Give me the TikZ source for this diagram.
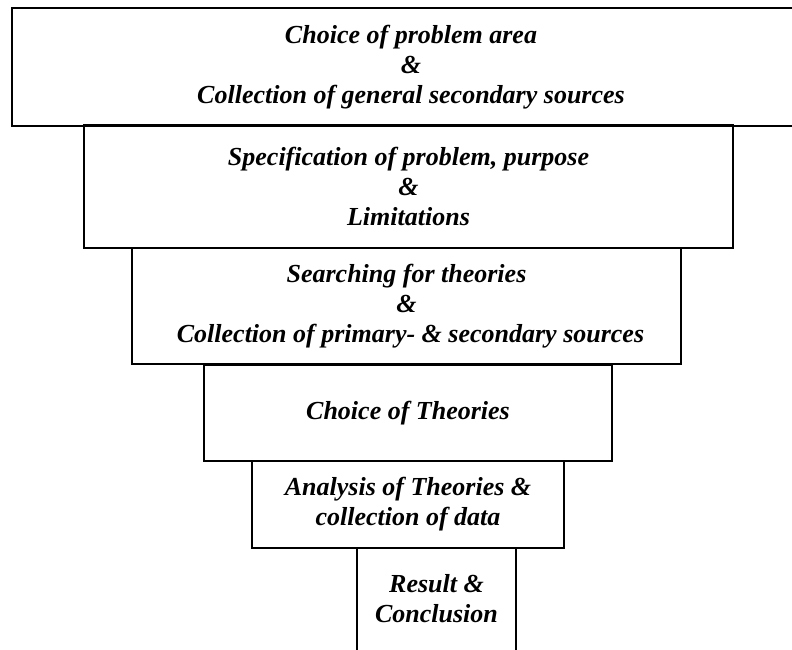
\documentclass[tikz,border=0pt]{standalone}
\usepackage{fontspec}
\setmainfont{Liberation Serif}
\begin{document}
\begin{tikzpicture}[x=1pt,y=-1pt,
  stage/.style={draw=black, line width=2pt, inner sep=0pt, outer sep=0pt,
    align=center, font=\fontsize{26}{30}\selectfont\bfseries\itshape},
  openstage/.style={stage, draw=none},
  edge/.style={line width=2pt}]
\useasboundingbox (0,0) rectangle (792,649);

% funnel of stages, widest at the top (the first one runs past the right edge)
\node[stage, line width=2.5pt, minimum width=798pt, minimum height=118pt] (s1) at (411,67)
  {Choice of problem area\\ \&\\ Collection of general secondary sources};
\node[stage, minimum width=649pt, minimum height=123pt] (s2) at (408.5,186.5)
  {Specification of problem, purpose\\ \&\\ Limitations};
\node[stage, minimum width=549pt, minimum height=116pt] (s3) at (406.5,306)
  {Searching for theories\\ \&\\ \hspace*{8pt}Collection of primary- \& secondary sources};
\node[stage, minimum width=408pt, minimum height=96pt] (s4) at (408,413)
  {Choice of Theories};
\node[stage, minimum width=312pt, minimum height=87pt] (s5) at (408,504.5)
  {Analysis of Theories \&\\ collection of data};

% last stage runs off the bottom edge, so only its sides are drawn
\node[openstage, minimum width=159pt, minimum height=101pt] (s6) at (436.5,598.5)
  {Result \&\\ Conclusion};
\draw[edge] (s6.north west) -- (s6.west |- 0,652);
\draw[edge] (s6.north east) -- (s6.east |- 0,652);
\end{tikzpicture}
\end{document}
